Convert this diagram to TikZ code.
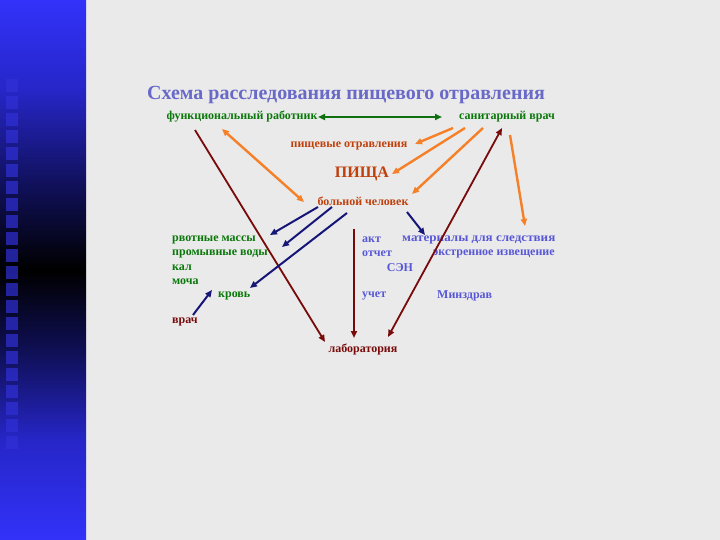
\documentclass[tikz,border=0pt]{standalone}
\usepackage{fontspec}
\setmainfont{Liberation Serif}
\usetikzlibrary{arrows.meta}
\definecolor{bgc}{RGB}{234,234,234}
\definecolor{barblue}{RGB}{50,50,250}
\definecolor{barmid}{RGB}{38,38,200}
\definecolor{bardark}{RGB}{16,16,90}
\definecolor{sqc}{RGB}{48,48,215}
\definecolor{titlec}{RGB}{105,105,200}
\definecolor{greent}{RGB}{10,120,10}
\definecolor{greena}{RGB}{16,112,16}
\definecolor{oranget}{RGB}{192,64,12}
\definecolor{orangea}{RGB}{245,128,40}
\definecolor{maroon}{RGB}{120,10,10}
\definecolor{navy}{RGB}{22,22,120}
\definecolor{bluet}{RGB}{88,88,215}
\pgfdeclareverticalshading{barshade}{100bp}{color(0bp)=(barblue); color(25bp)=(barblue); color(34.26bp)=(barmid); color(42.13bp)=(bardark); color(50bp)=(black); color(57.87bp)=(bardark); color(66.67bp)=(barmid); color(75bp)=(barblue); color(100bp)=(barblue)}
\begin{document}
\begin{tikzpicture}[x=1pt,y=-1pt,
  lbl/.style={inner sep=0pt,font=\bfseries\fontsize{12}{12}\selectfont},
  gtext/.style={lbl,text=greent},
  otext/.style={lbl,text=oranget},
  btext/.style={lbl,text=bluet},
  mtext/.style={lbl,text=maroon},
  tip/.style={-{Triangle[length=7pt,width=6pt]}},
  dtip/.style={{Triangle[length=7pt,width=6pt]}-{Triangle[length=7pt,width=6pt]}},
  oarr/.style={orangea,line width=2.4pt},
  marr/.style={maroon,line width=1.8pt},
  narr/.style={navy,line width=2pt},
  garr/.style={greena,line width=2.4pt}]
\useasboundingbox (0,0) rectangle (720,540);
\fill[bgc] (0,0) rectangle (720,540);
\begin{scope}[y=1pt]
\pgfpathrectangle{\pgfpoint{0pt}{-540pt}}{\pgfpoint{86pt}{540pt}}
\pgfshadepath{barshade}{0}
\pgfusepath{}
\end{scope}
\foreach \i in {0,...,21} \fill[sqc,opacity=0.7] (6,79+17*\i) rectangle ++(12,13);

\node[inner sep=0pt,text=titlec,font=\bfseries\fontsize{20}{20}\selectfont] (title) at (346,95) {Схема расследования пищевого отравления};
\node[gtext] (fr) at (242,117) {функциональный работник};
\node[gtext] (sv) at (507,117) {санитарный врач};
\node[otext] (po) at (349,146) {пищевые отравления};
\node[otext,font=\bfseries\fontsize{16}{16}\selectfont] (pi) at (362,174) {ПИЩА};
\node[otext] (bc) at (363,201) {больной человек};
\node[gtext,anchor=west] (rm) at (172,240) {рвотные массы};
\node[gtext,anchor=west] (pv) at (172,254) {промывные воды};
\node[gtext,anchor=west] (kal) at (172,268) {кал};
\node[gtext,anchor=west] (mo) at (172,282) {моча};
\node[gtext,anchor=west] (kr) at (218,296) {кровь};
\node[mtext,anchor=west] (vr) at (172,322) {врач};
\node[mtext] (lab) at (363,349) {лаборатория};
\node[btext,anchor=west] (akt) at (362,240) {акт};
\node[btext,anchor=west] (ot) at (362,254) {отчет};
\node[btext] (sen) at (400,268) {СЭН};
\node[btext,anchor=west] (uch) at (362,296) {учет};
\node[btext,anchor=west,font=\bfseries\fontsize{12}{12}\selectfont\addfontfeatures{FakeStretch=1.09}] (mat) at (402,240) {материалы для следствия};
\node[btext,anchor=west] (ei) at (433,254) {экстренное извещение};
\node[btext,anchor=west] (mz) at (437,296) {Минздрав};

% connector end points
\coordinate (g1) at (318,117); \coordinate (g2) at (442,117);
\coordinate (o1) at (222,129); \coordinate (o2) at (304,202);
\coordinate (s1) at (453,128); \coordinate (e1) at (415,144);
\coordinate (s2) at (465,128); \coordinate (e2) at (392,174);
\coordinate (s3) at (483,128); \coordinate (e3) at (412,194);
\coordinate (s4) at (510,135); \coordinate (e4) at (525,226);
\coordinate (m1) at (195,130); \coordinate (l1) at (325,342);
\coordinate (m2) at (502,128); \coordinate (l2) at (388,337);
\coordinate (m3) at (354,229); \coordinate (l3) at (354,338);
\coordinate (b1) at (318,207); \coordinate (t1) at (270,235);
\coordinate (b2) at (332,207); \coordinate (t2) at (282,247);
\coordinate (b3) at (347,213); \coordinate (t3) at (250,288);
\coordinate (b4) at (407,212); \coordinate (t4) at (425,235);
\coordinate (v1) at (193,315); \coordinate (v2) at (212,290);

\draw[garr,dtip] (g1) -- (g2);
\draw[oarr,dtip] (o1) -- (o2);
\draw[oarr,tip] (s1) -- (e1);
\draw[oarr,tip] (s2) -- (e2);
\draw[oarr,tip] (s3) -- (e3);
\draw[oarr,tip] (s4) -- (e4);
\draw[marr,tip] (m1) -- (l1);
\draw[marr,dtip] (m2) -- (l2);
\draw[marr,tip] (m3) -- (l3);
\draw[narr,tip] (b1) -- (t1);
\draw[narr,tip] (b2) -- (t2);
\draw[narr,tip] (b3) -- (t3);
\draw[narr,tip] (b4) -- (t4);
\draw[narr,tip] (v1) -- (v2);
\end{tikzpicture}
\end{document}
